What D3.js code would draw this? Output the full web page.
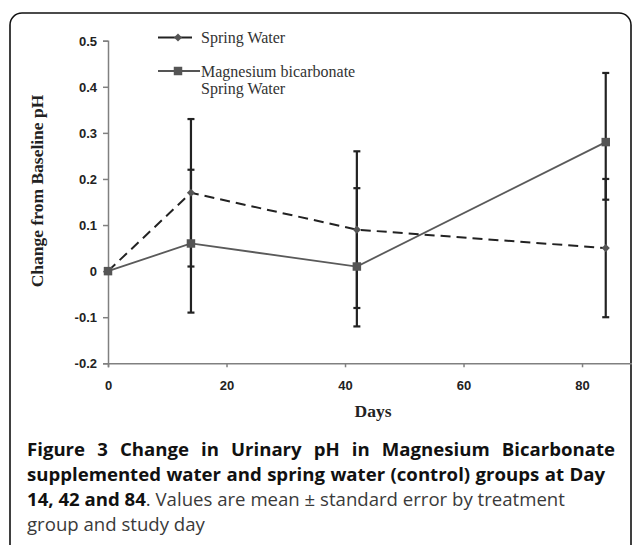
<!DOCTYPE html>
<html lang="en">
<head>
<meta charset="UTF-8">
<title>Change in Urinary pH</title>
<script src="https://d3js.org/d3.v7.min.js"></script>
<style>
  body { margin: 0; background: #fff; }
  svg { display: block; }
</style>
</head>
<body>
<script>
    // data
    var days = [0, 14, 42, 84];
    var springMean = [0, 0.17, 0.09, 0.05];
    var springLow  = [null, 0.01, -0.08, -0.10];
    var springHigh = [null, 0.33, 0.26, 0.20];
    var mgMean = [0, 0.06, 0.01, 0.28];
    var mgLow  = [null, -0.09, -0.12, 0.155];
    var mgHigh = [null, 0.22, 0.18, 0.43];
    var yTicks = [-0.2, -0.1, 0, 0.1, 0.2, 0.3, 0.4, 0.5];
    var xTicks = [0, 20, 40, 60, 80];
    var legendNames = ["Spring Water", "Magnesium bicarbonate|Spring Water"];

    var width = 632, height = 545;

    var svg = d3.select("body").append("svg")
        .attr("width", width)
        .attr("height", height);

    // rounded frame, bottom runs off the page
    svg.append("rect")
        .attr("x", 10).attr("y", 13)
        .attr("width", 621).attr("height", 560)
        .attr("rx", 12).attr("ry", 12)
        .style("fill", "none")
        .style("stroke", "#111")
        .style("stroke-width", 1.6);

    var x = d3.scaleLinear().domain([0, 88.5]).range([108, 632.4]);
    var y = d3.scaleLinear().domain([-0.2, 0.5]).range([363.3, 40.7]);

    // axes
    var yAxis = svg.append("g")
        .attr("transform", "translate(108,0)")
        .call(d3.axisLeft(y).tickValues(yTicks).tickSize(5).tickPadding(6)
            .tickFormat(function(d) { return d === 0 ? "0" : d.toFixed(1); }));
    var xAxis = svg.append("g")
        .attr("transform", "translate(0," + y(-0.2) + ")")
        .call(d3.axisBottom(x).tickValues(xTicks).tickSize(4).tickPadding(13));

    [yAxis, xAxis].forEach(function(a) {
        a.select(".domain").style("stroke", "#808080").style("stroke-width", 1.5);
        a.selectAll(".tick line").style("stroke", "#808080").style("stroke-width", 1.5);
        a.selectAll("text")
            .style("font-family", "Arial, 'Liberation Sans', sans-serif")
            .style("font-weight", "bold")
            .style("font-size", "13px")
            .style("fill", "#222");
    });
    yAxis.selectAll("text").attr("dy", "0.36em");

    // axis titles
    svg.append("text")
        .attr("transform", "translate(43,191) rotate(-90)")
        .attr("text-anchor", "middle")
        .style("font-family", "'Liberation Serif', 'Times New Roman', serif")
        .style("font-weight", "bold")
        .style("font-size", "17.5px")
        .style("fill", "#222")
        .text("Change from Baseline pH");

    svg.append("text")
        .attr("x", 373).attr("y", 417)
        .attr("text-anchor", "middle")
        .style("font-family", "'Liberation Serif', 'Times New Roman', serif")
        .style("font-weight", "bold")
        .style("font-size", "17.5px")
        .style("fill", "#222")
        .text("Days");

    var line = d3.line()
        .x(function(d) { return x(d[0]); })
        .y(function(d) { return y(d[1]); });

    var springPts = days.map(function(d, i) { return [d, springMean[i]]; });
    var mgPts = days.map(function(d, i) { return [d, mgMean[i]]; });

    svg.append("path")
        .attr("d", line(mgPts))
        .style("fill", "none")
        .style("stroke", "#5a5a5a")
        .style("stroke-width", 1.8);

    svg.append("path")
        .attr("d", line(springPts))
        .style("fill", "none")
        .style("stroke", "#222")
        .style("stroke-width", 2)
        .style("stroke-dasharray", "10,6");

    // error bars
    var bars = [];
    days.forEach(function(d, i) {
        if (springLow[i] !== null) bars.push({ day: d, lo: springLow[i], hi: springHigh[i] });
        if (mgLow[i] !== null) bars.push({ day: d, lo: mgLow[i], hi: mgHigh[i] });
    });
    var eb = svg.append("g").style("stroke", "#222").style("stroke-width", 2.2);
    bars.forEach(function(b) {
        var cx = x(b.day);
        eb.append("line").attr("x1", cx).attr("x2", cx).attr("y1", y(b.lo)).attr("y2", y(b.hi));
        eb.append("line").attr("x1", cx - 3.5).attr("x2", cx + 3.5).attr("y1", y(b.lo)).attr("y2", y(b.lo));
        eb.append("line").attr("x1", cx - 3.5).attr("x2", cx + 3.5).attr("y1", y(b.hi)).attr("y2", y(b.hi));
    });

    // markers
    var diamond = d3.symbol().type(d3.symbolDiamond2).size(42);
    var square = d3.symbol().type(d3.symbolSquare).size(72);

    svg.append("g").selectAll("path")
        .data(mgPts).enter().append("path")
        .attr("transform", function(d) { return "translate(" + x(d[0]) + "," + y(d[1]) + ")"; })
        .attr("d", square)
        .style("fill", "#555");

    svg.append("g").selectAll("path")
        .data(springPts).enter().append("path")
        .attr("transform", function(d) { return "translate(" + x(d[0]) + "," + y(d[1]) + ")"; })
        .attr("d", diamond)
        .style("fill", "#555");

    // legend
    var lg = svg.append("g");
    lg.append("line").attr("x1", 158).attr("x2", 192).attr("y1", 37.5).attr("y2", 37.5)
        .style("stroke", "#222").style("stroke-width", 2);
    lg.append("path").attr("transform", "translate(178,37.5)").attr("d", diamond).style("fill", "#555");
    lg.append("line").attr("x1", 158).attr("x2", 200).attr("y1", 71).attr("y2", 71)
        .style("stroke", "#555").style("stroke-width", 1.8);
    lg.append("path").attr("transform", "translate(178,71)").attr("d", square).style("fill", "#555");

    var legendY = [43, 76.5];
    legendNames.forEach(function(name, i) {
        var t = lg.append("text")
            .attr("x", 201).attr("y", legendY[i])
            .style("font-family", "'Liberation Serif', 'Times New Roman', serif")
            .style("font-size", "16px")
            .style("fill", "#333");
        name.split("|").forEach(function(part, j) {
            t.append("tspan").attr("x", 201).attr("dy", j === 0 ? 0 : 17).text(part);
        });
    });

    // caption
    var captionLines = [
        [["Figure 3 Change in Urinary pH in Magnesium Bicarbonate", true]],
        [["supplemented water and spring water (control) groups at Day", true]],
        [["14, 42 and 84", true], [". Values are mean \u00b1 standard error by treatment", false]],
        [["group and study day", false]]
    ];
    var captionY = [456, 481, 506, 531];
    var captionWidth = [588, 578, null, null];

    captionLines.forEach(function(parts, i) {
        var t = svg.append("text")
            .attr("x", 27).attr("y", captionY[i])
            .style("font-family", "'Open Sans', 'Noto Sans', sans-serif")
            .style("font-size", "18.6px");
        parts.forEach(function(p) {
            t.append("tspan")
                .style("font-weight", p[1] ? "bold" : "normal")
                .style("fill", p[1] ? "#111" : "#3a3a3a")
                .text(p[0]);
        });
        if (captionWidth[i]) {
            var w = t.node().getComputedTextLength();
            var spaces = parts.map(function(p) { return p[0]; }).join("").split(" ").length - 1;
            if (w < captionWidth[i]) {
                t.style("word-spacing", ((captionWidth[i] - w) / spaces) + "px");
            } else {
                t.attr("textLength", captionWidth[i]).attr("lengthAdjust", "spacingAndGlyphs");
            }
        }
    });
</script>
</body>
</html>
